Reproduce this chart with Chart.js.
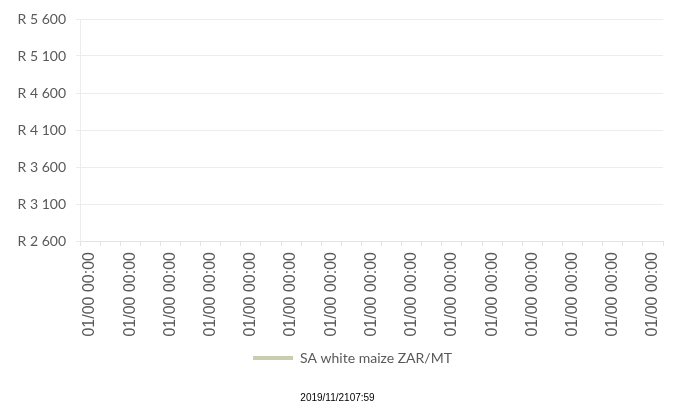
<!DOCTYPE html>
<html>

<head>
    <title>SA white maize ZAR/MT</title>
    <script src="https://cdn.jsdelivr.net/npm/chart.js@4.4.1/dist/chart.umd.min.js"></script>
    <style>
        html, body { margin: 0; padding: 0; background: #fff; }
        #wrap { position: relative; width: 674px; height: 413px; }
    </style>
</head>

<body>
    <div id="wrap">
        <canvas id="maizeChart" width="674" height="413"></canvas>
    </div>
    <script type="text/javascript">
    // categories (the source sheet had no valid dates, so every label reads 01/00 00:00)
    var dates = [
        "01/00 00:00", "01/00 00:00", "01/00 00:00", "01/00 00:00", "01/00 00:00",
        "01/00 00:00", "01/00 00:00", "01/00 00:00", "01/00 00:00", "01/00 00:00",
        "01/00 00:00", "01/00 00:00", "01/00 00:00", "01/00 00:00", "01/00 00:00",
        "01/00 00:00", "01/00 00:00", "01/00 00:00", "01/00 00:00", "01/00 00:00",
        "01/00 00:00", "01/00 00:00", "01/00 00:00", "01/00 00:00", "01/00 00:00",
        "01/00 00:00", "01/00 00:00", "01/00 00:00", "01/00 00:00"
    ];
    // no points are plotted in the picture
    var prices = [
        null, null, null, null, null, null, null, null, null, null,
        null, null, null, null, null, null, null, null, null, null,
        null, null, null, null, null, null, null, null, null
    ];
    var yMin = 2600;
    var yMax = 5600;
    var yStep = 500;
    var seriesName = "SA white maize ZAR/MT";
    var stamp = "2019/11/2107:59";

    var grey = "#595959";

    function rand(v) {
        // R 5 600 style
        var s = String(v).replace(/\B(?=(\d{3})+(?!\d))/g, " ");
        return "R " + s;
    }

    // excel puts the legend and the time stamp a bit right of where chart.js centres them
    var nudge = {
        id: "nudge",
        afterLayout: function(chart) {
            var lg = chart.legend;
            lg.left += 21;
            lg.right += 21;
            var tb = chart.titleBlock;
            tb.left += 6;
            tb.right += 6;
        }
    };

    var ctx = document.getElementById("maizeChart");
    var chart = new Chart(ctx, {
        type: "line",
        data: {
            labels: dates,
            datasets: [{
                label: seriesName,
                data: prices,
                borderColor: "#c9cfae",
                backgroundColor: "#c9cfae",
                borderWidth: 4,
                pointRadius: 0,
                pointStyle: "line"
            }]
        },
        options: {
            responsive: false,
            animation: false,
            layout: {
                padding: { left: 0, right: 11, top: 19, bottom: 0 }
            },
            scales: {
                x: {
                    offset: true,
                    afterFit: function(s) {
                        s.height = 100;
                        s.paddingLeft = 0;
                        s.paddingRight = 0;
                    },
                    grid: {
                        offset: true,
                        drawOnChartArea: false,
                        tickLength: 5,
                        color: "#e3e3e3"
                    },
                    border: { color: "#e3e3e3" },
                    ticks: {
                        autoSkip: false,
                        minRotation: 90,
                        maxRotation: 90,
                        padding: 6,
                        color: grey,
                        font: { family: "'Liberation Sans', Arial, sans-serif", size: 16 },
                        callback: function(v, i) {
                            return i % 2 === 0 ? dates[i] : "";
                        }
                    }
                },
                y: {
                    min: yMin,
                    max: yMax,
                    afterFit: function(s) { s.width = 80; },
                    grid: {
                        color: "#ececec",
                        tickLength: 4
                    },
                    border: { color: "#ececec" },
                    ticks: {
                        stepSize: yStep,
                        padding: 10,
                        color: grey,
                        font: { family: "Lato, 'Open Sans', sans-serif", size: 14 },
                        callback: function(v) { return rand(v); }
                    }
                }
            },
            plugins: {
                legend: {
                    position: "bottom",
                    labels: {
                        usePointStyle: true,
                        pointStyleWidth: 40,
                        padding: 10,
                        color: grey,
                        font: { family: "Lato, 'Open Sans', sans-serif", size: 14 }
                    }
                },
                title: {
                    display: true,
                    position: "bottom",
                    text: stamp,
                    color: "#000",
                    font: { family: "'Liberation Sans', Arial, sans-serif", size: 10, weight: "normal" },
                    padding: { top: 17, bottom: 9 }
                },
                tooltip: { enabled: false }
            }
        },
        plugins: [nudge]
    });
    </script>
</body>

</html>
